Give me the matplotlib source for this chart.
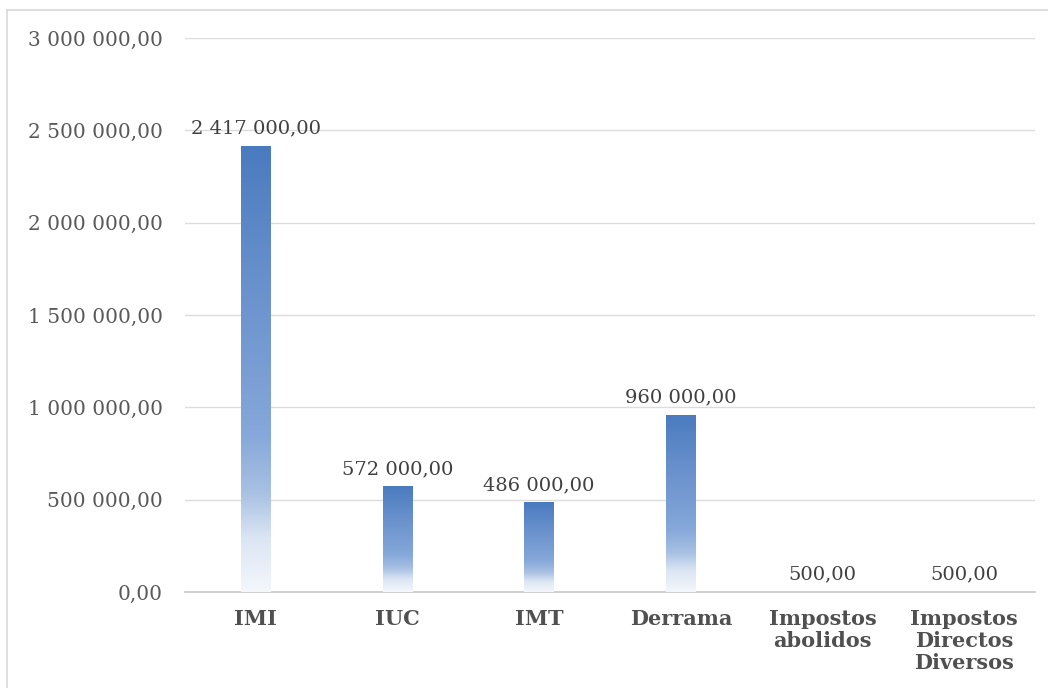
import numpy as np
import matplotlib
matplotlib.use("Agg")
import matplotlib.pyplot as plt
from matplotlib.colors import LinearSegmentedColormap
from matplotlib.lines import Line2D

categories = ["IMI", "IUC", "IMT", "Derrama", "Impostos\nabolidos", "Impostos\nDirectos\nDiversos"]
values = [2417000, 572000, 486000, 960000, 500, 500]
y_ticks = [0, 500000, 1000000, 1500000, 2000000, 2500000, 3000000]


def fmt_pt(v):
    # portuguese style: space for thousands, comma for decimals
    s = f"{v:,.2f}"
    return s.replace(",", " ").replace(".", ",")


plt.rcParams["font.family"] = ["DejaVu Serif"]

fig = plt.figure(figsize=(10.48, 6.88), dpi=100)
ax = fig.add_axes([185 / 1048, 96 / 688, 850 / 1048, 554 / 688])

# gradient from solid blue at the top to almost white at the base
grad = LinearSegmentedColormap.from_list(
    "bar_grad",
    [(0.0, "#f4f7fc"), (0.12, "#dbe5f3"), (0.22, "#a9c1e3"),
     (0.35, "#86a8da"), (0.7, "#6890cc"), (1.0, "#4a7bbf")])
g = np.linspace(0, 1, 256).reshape(-1, 1)

width = 0.21
x = np.arange(len(categories))
bars = ax.bar(x, values, width=width, color="none", edgecolor="none", zorder=3)
for b in bars:
    x0, h = b.get_x(), b.get_height()
    im = ax.imshow(g, cmap=grad, origin="lower", aspect="auto",
                   extent=(x0, x0 + b.get_width(), 0, h), zorder=3)
    im.set_clip_path(b)

for xi, v in zip(x, values):
    ax.annotate(fmt_pt(v), (xi, v), xytext=(0, 6), textcoords="offset points",
                ha="center", va="bottom", fontsize=14, color="#404040")

ax.set_xlim(-0.5, len(categories) - 0.5)
ax.set_ylim(0, 3000000)
ax.set_yticks(y_ticks)
ax.set_yticklabels([fmt_pt(t) for t in y_ticks], fontsize=14.5, color="#595959")
ax.set_xticks(x)
ax.set_xticklabels(categories, fontsize=15, fontweight="bold", color="#505050",
                   linespacing=1.15, va="top")
ax.tick_params(axis="both", length=0)
ax.tick_params(axis="y", pad=16)
ax.tick_params(axis="x", pad=12)

ax.grid(axis="y", color="#dcdcdc", linewidth=1)
ax.set_axisbelow(True)
for side in ["top", "right", "left"]:
    ax.spines[side].set_visible(False)
ax.spines["bottom"].set_color("#c8c8c8")
ax.spines["bottom"].set_linewidth(1.2)

# chart area frame (left and top edges)
fig.add_artist(Line2D([7 / 1048, 7 / 1048], [0, 678 / 688], color="#d9d9d9", linewidth=1.2))
fig.add_artist(Line2D([7 / 1048, 1], [678 / 688, 678 / 688], color="#d9d9d9", linewidth=1.2))

fig.savefig("out.png", dpi=100)
